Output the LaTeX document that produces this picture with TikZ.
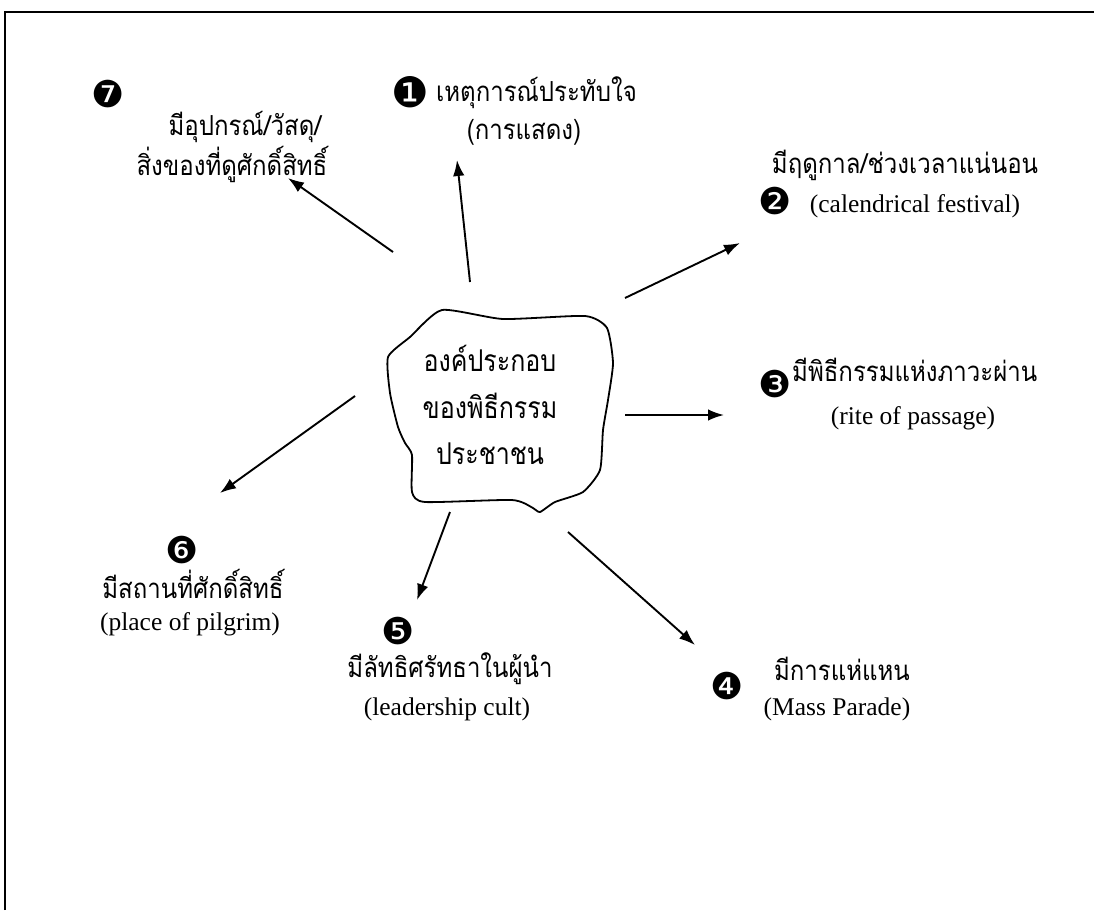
\documentclass[tikz,border=0pt]{standalone}
\usepackage{fontspec}
\setmainfont{Liberation Serif}
\newfontfamily\thaifont[Script=Thai]{Loma}
\newfontfamily\dingfont{DejaVu Sans}
\usetikzlibrary{arrows.meta}
\newcommand\thx[1]{\scalebox{1}[1.15]{#1}}
\newcommand\thy[1]{\scalebox{1}[1.2]{#1}}
\tikzset{
  thai/.style={font=\thaifont\fontsize{24}{28}\selectfont, inner sep=0pt},
  thaibig/.style={font=\thaifont\fontsize{25}{30}\selectfont, inner sep=0pt},
  lat/.style={font=\fontsize{25.5}{30}\selectfont, inner sep=0pt},
  num/.style={font=\dingfont\fontsize{37}{40}\selectfont, inner sep=0pt},
  numbig/.style={font=\dingfont\fontsize{42}{45}\selectfont, inner sep=0pt},
  arr/.style={-{Latex[length=16pt,width=11.5pt]}, line width=1.9pt},
  frame/.style={line width=1.6pt},
  blob/.style={line width=1.8pt}
}
\begin{document}
\begin{tikzpicture}[x=1pt,y=-1pt]
\useasboundingbox (0,0) rectangle (1094,910);
% frame
\draw[frame] (5,910) -- (5,12) -- (1094,12);
% central blob
\draw[blob] plot[smooth cycle, tension=0.35] coordinates {
 (442,310) (503,319) (585,316) (607,328) (613,363) (608,400) (603,430)
 (600,470) (583,492) (555,502) (540,512) (533,508) (512,500) (425,502)
 (412,492) (412,455) (405,443) (398,427) (390,393) (388,357) (410,337)};
\node[thaibig] (c1) at (490,358) {\thy{องค์ประกอบ}};
\node[thaibig] (c2) at (490,406) {\thy{ของพิธีกรรม}};
\node[thaibig] (c3) at (490,454) {\thy{ประชาชน}};
% 1
\node[numbig] (n1) at (410,92) {❶};
\node[thai, anchor=west] (t1) at (436,93) {\thx{เหตุการณ์ประทับใจ}};
\node[thai] (u1) at (524,132) {\thx{(การแสดง)}};
% 2
\node[thai] (t2) at (905,165) {\thx{มีฤดูกาล/ช่วงเวลาแน่นอน}};
\node[num] (n2) at (775,201) {❷};
\node[lat] (u2) at (915,206) {(calendrical festival)};
% 3
\node[num] (n3) at (775,384) {❸};
\node[thai, anchor=west] (t3) at (792,370) {\thx{มีพิธีกรรมแห่งภาวะผ่าน}};
\node[lat] (u3) at (913,418) {(rite of passage)};
% 4
\node[num] (n4) at (727,686) {❹};
\node[thai] (t4) at (842,669) {\thx{มีการแห่แหน}};
\node[lat] (u4) at (837,709) {(Mass Parade)};
% 5
\node[num] (n5) at (398,631) {❺};
\node[thai] (t5) at (450,669) {\thx{มีลัทธิศรัทธาในผู้นำ}};
\node[lat] (u5) at (447,709) {(leadership cult)};
% 6
\node[num] (n6) at (182,550) {❻};
\node[thai] (t6) at (193,584) {\thx{มีสถานที่ศักดิ์สิทธิ์}};
\node[lat] (u6) at (190,624) {(place of pilgrim)};
% 7
\node[num] (n7) at (108,94) {❼};
\node[thai] (t7) at (245,127) {\thx{มีอุปกรณ์/วัสดุ/}};
\node[thai] (v7) at (232,164) {\thx{สิ่งของที่ดูศักดิ์สิทธิ์}};
% arrow endpoints
\coordinate (s1) at (470,282); \coordinate (e1) at (457,160);
\coordinate (s2) at (625,298); \coordinate (e2) at (740,243);
\coordinate (s3) at (625,415); \coordinate (e3) at (724,415);
\coordinate (s4) at (568,532); \coordinate (e4) at (695,645);
\coordinate (s5) at (450,512); \coordinate (e5) at (417,600);
\coordinate (s6) at (355,396); \coordinate (e6) at (220,493);
\coordinate (s7) at (393,252); \coordinate (e7) at (288,178);
\draw[arr] (s1) -- (e1);
\draw[arr] (s2) -- (e2);
\draw[arr] (s3) -- (e3);
\draw[arr] (s4) -- (e4);
\draw[arr] (s5) -- (e5);
\draw[arr] (s6) -- (e6);
\draw[arr] (s7) -- (e7);
\end{tikzpicture}
\end{document}
